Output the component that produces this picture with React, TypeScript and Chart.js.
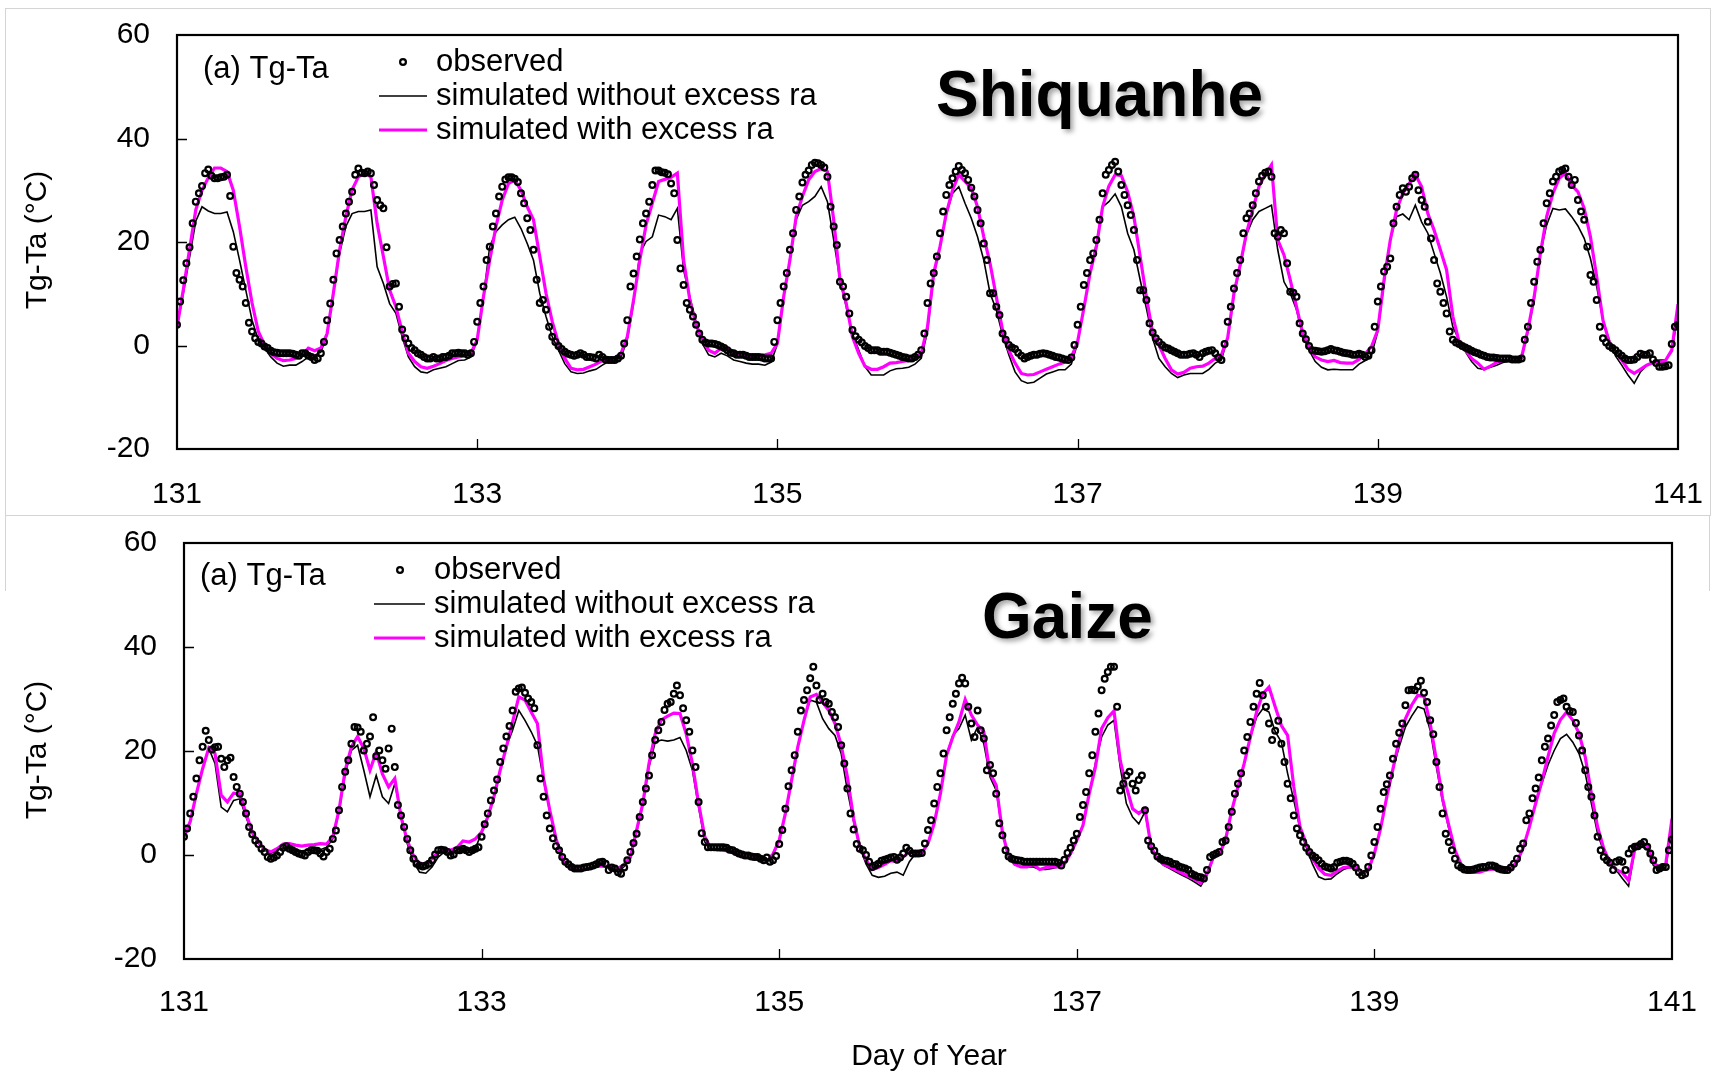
import React, { useEffect, useRef } from "react";
import { Chart, registerables } from "chart.js";

Chart.register(...registerables);

// ---------------- data ----------------
const FIRST_DAY = 131;
const LAST_DAY = 141;
const xTickValues = [131, 133, 135, 137, 139, 141];
const yTickValues = [-20, 0, 20, 40, 60];

const seriesLabels = ["observed", "simulated without excess ra", "simulated with excess ra"];
const panelLabel = "(a) Tg-Ta";
const yTitle = "Tg-Ta (\u00B0C)";
const xTitle = "Day of Year";

// Shiquanhe, observed (half-hourly, one row per day 131..140)
const shqObserved: number[][] = [
  [4.0, 8.5, 12.6, 15.9, 19, 23.6, 27.8, 29.4, 30.8, 33.3, 34, 32.8, 32.3, 32.3, 32.5, 32.6, 33, 28.9, 19.1, 14, 12.7, 11.4, 8.2, 4.4, 2.7, 1.4, 0.7, 0.4, -0.2, -0.5, -1, -1.3, -1.4, -1.5, -1.5, -1.5, -1.5, -1.6, -1.8, -2, -1.5, -1.5, -2, -2.2, -2.8, -2.5, -1.5, 0.7],
  [4.9, 8.1, 12.7, 17.8, 20.4, 23, 25.5, 27.8, 29.7, 33, 34.2, 33.4, 33.3, 33.6, 33.3, 31, 28.1, 27.1, 26.5, 19, 11.4, 11.9, 12, 7.5, 3.1, 1.4, 0.4, -0.5, -0.9, -1.5, -1.8, -2.2, -2.5, -2.5, -2.2, -2.5, -2.5, -2.2, -2.2, -2, -1.5, -1.5, -1.4, -1.5, -1.5, -1.8, -1.5, 0.7],
  [4.6, 8.2, 11.4, 16.5, 19.1, 23, 25.5, 28.8, 30.7, 32.1, 32.5, 32.5, 32.2, 31.6, 29.4, 27.5, 24.6, 22.3, 18.5, 12.7, 8.2, 8.8, 6.9, 3.6, 1.7, 0.7, -0.1, -0.7, -1.2, -1.6, -1.8, -2, -1.8, -1.5, -1.8, -2.2, -2.2, -2.3, -2.5, -1.8, -2.2, -2.7, -2.8, -2.8, -2.8, -2.5, -2, 0.4],
  [4.9, 11.4, 13.9, 17.2, 20.5, 23.6, 25.5, 27.8, 31, 33.8, 33.8, 33.5, 33.4, 33.1, 31.3, 29.4, 20.4, 14.9, 11.7, 8.2, 6.9, 5.6, 4, 2.3, 1.1, 0.6, 0.4, 0.4, 0.3, 0.1, -0.2, -0.5, -0.9, -1.4, -1.5, -1.8, -1.8, -1.8, -2, -2.2, -2.2, -2.2, -2.2, -2.3, -2.5, -2.5, -2.5, 0.7],
  [4.9, 8.2, 11.4, 14, 18.5, 21.7, 26.2, 28.8, 31.5, 33, 33.8, 34.9, 35.3, 35.2, 34.9, 34.4, 32.6, 26.8, 23, 19.4, 12.3, 11.4, 9.4, 6.2, 3, 1.8, 1.1, 0.6, -0.1, -0.5, -0.9, -0.9, -0.9, -1.2, -1.2, -1.2, -1.4, -1.6, -1.8, -2, -2.2, -2.3, -2.5, -2.5, -2.2, -1.8, -0.9, 2.3],
  [8.2, 12, 14, 17.2, 21.7, 25.9, 29.1, 31, 32.3, 33.6, 34.7, 33.9, 33.3, 32, 30.5, 28.8, 26.2, 23.6, 19.7, 16.5, 10.1, 10.1, 7.5, 5.9, 2.3, 1.1, 0.1, -0.4, -0.7, -1.4, -2, -2.5, -2.2, -2, -1.8, -1.8, -1.6, -1.5, -1.6, -1.8, -2, -2.2, -2.3, -2.5, -2.7, -2.8, -2.3, 0.1],
  [4, 7.5, 11.7, 14, 16.5, 17.8, 20.4, 24.3, 29.4, 33, 33.9, 34.9, 35.5, 33.6, 31, 29.1, 27.1, 25.2, 22.3, 16.5, 10.7, 10.7, 8.8, 4.3, 2.5, 1.4, 0.7, 0.1, -0.4, -0.6, -0.9, -1.2, -1.5, -1.8, -1.8, -1.8, -1.6, -1.5, -1.8, -2.2, -1.5, -1.2, -1, -0.9, -1.5, -2.3, -2.8, 0.3],
  [4.6, 7.5, 11, 14, 16.5, 21.7, 24.6, 25.5, 27.1, 29.4, 31.7, 32.8, 33.4, 33.6, 32.6, 21.7, 21, 22.3, 21.7, 15.9, 10.4, 10.2, 9.4, 4.3, 2.3, 1.2, -0.1, -0.9, -1, -1.1, -1.2, -1.1, -0.9, -0.7, -0.9, -1, -1.2, -1.4, -1.5, -1.6, -1.8, -1.8, -1.6, -1.8, -2.2, -2, -0.9, 3.6],
  [8.5, 11.4, 14.3, 15.2, 16.8, 23.6, 26.8, 29.1, 30.4, 29.7, 30.7, 32.3, 33, 30, 28.1, 26.8, 23.9, 20.7, 16.5, 12, 10.4, 8.2, 6.2, 2.7, 1.1, 0.6, 0.3, -0.1, -0.4, -0.7, -1, -1.3, -1.5, -1.8, -2, -2.2, -2.3, -2.3, -2.4, -2.5, -2.5, -2.5, -2.5, -2.7, -2.7, -2.7, -2.5, 1.1],
  [3.6, 8.2, 12.3, 16.2, 18.5, 23.6, 27.5, 29.4, 31.7, 32.6, 33.6, 33.9, 34.2, 32.6, 31, 32, 28.1, 25.9, 24.3, 19.1, 13.6, 12.3, 8.8, 3.6, 1.4, 0.6, -0.1, -0.5, -0.9, -1.5, -2, -2.5, -2.8, -2.8, -2.7, -2.2, -1.6, -1.8, -1.8, -1.5, -2.7, -3.4, -4.1, -4.1, -4, -3.8, 0.3, 3.6],
];
const shqObservedLast = 4;

// Shiquanhe, simulated without excess ra (hourly)
const shqNoExcess: number[][] = [
  [3.6, 10, 17, 24, 26.8, 26, 25.5, 25.5, 25.8, 22, 16.5, 10.7, 4.9, 1.1, -0.5, -2.2, -3.4, -4, -3.8, -3.8, -3.1, -2.2, -1.9, -1.3],
  [2, 10, 17.8, 23, 25.5, 25.9, 25.9, 26.2, 15.2, 12, 8.1, 6.2, 1.7, -2.2, -4.1, -5.1, -5.3, -4.7, -4.4, -4.1, -3.5, -2.9, -2.8, -2.2],
  [1.1, 9.4, 19.1, 22, 23.3, 24.3, 24.8, 22.6, 19.7, 16.5, 10.1, 5.6, 1.7, -0.9, -3.5, -5.1, -5.4, -5.3, -4.9, -4.6, -3.8, -3.1, -2.8, -2.2],
  [1.1, 8.2, 17.8, 20.1, 21, 25.2, 24.9, 24.3, 26.5, 14.6, 9.4, 4.3, 0.4, -1.8, -2.2, -1.5, -2, -2.8, -3.1, -3.4, -3.6, -3.6, -3.8, -3.2],
  [0.3, 9.4, 16.5, 24.3, 27.1, 27.8, 28.8, 30.7, 27.8, 20.4, 12.7, 7.5, 2.3, -0.9, -4.1, -5.7, -5.7, -5.7, -4.9, -4.5, -4.4, -4.2, -3.6, -2.5],
  [2.7, 13.5, 19.1, 25.2, 29.4, 30.7, 27.5, 24.6, 21, 16.5, 10.1, 6.9, 2, -1.8, -5.1, -6.8, -7.3, -7.1, -6.3, -5.5, -5.1, -4.7, -4.7, -3.6],
  [0.4, 7.2, 14, 19.7, 26.8, 27.8, 29.3, 26.8, 21.7, 18.5, 12.7, 7.2, 1.4, -2.5, -4.1, -5.4, -6.2, -5.7, -5.4, -5.4, -5.4, -4.6, -3.4, -2.8],
  [1.5, 9.8, 15.2, 21.4, 24.3, 25.9, 26.5, 27.1, 18.5, 12.3, 10.1, 6.9, 2, -0.9, -3.1, -4.2, -4.7, -4.6, -4.7, -4.7, -4.7, -3.6, -2.9, -1.8],
  [2.7, 12, 20.4, 24.9, 25.4, 24.3, 27.1, 23.9, 21.7, 17.8, 14, 9.4, 3.6, 1.1, -1.2, -3.1, -4.4, -4.6, -4.2, -3.8, -3.3, -3.1, -2.8, -2.5],
  [2.7, 8.8, 17.8, 23.3, 26.5, 26.2, 26.4, 24.9, 23.1, 20.7, 16.8, 11.4, 4.9, 1.1, -2, -3.8, -5.7, -7.3, -5.1, -3.8, -3.4, -2.8, -2.8, -1.2],
];
const shqNoExcessLast = 6;

// Shiquanhe, simulated with excess ra (hourly)
const shqExcess: number[][] = [
  [3.6, 10.7, 18.5, 26.2, 30, 32.4, 34.3, 34.3, 33.6, 30, 23, 15.2, 8.2, 2.7, 0.1, -1.5, -2.5, -2.9, -2.8, -2.5, -1.9, -0.5, -1, -0.5],
  [2.3, 10.1, 18.5, 24.9, 30.1, 32.6, 33.3, 32.6, 23.6, 17.2, 10.7, 7.5, 2.7, -1.5, -3.1, -4.1, -4.4, -4, -3.5, -2.9, -2.5, -2.2, -2, -1.5],
  [1.1, 9.4, 16.5, 23, 28.1, 31.3, 32, 30, 26.8, 24.3, 17.2, 10.1, 4.6, 0.4, -2.5, -4.4, -4.7, -4.6, -4.1, -3.6, -2.9, -2.8, -2.5, -1.5],
  [1.7, 8.8, 16.5, 23.3, 27.5, 31.7, 32.1, 32.5, 33.3, 16.5, 8.8, 4, 1.1, -0.9, -1.5, -0.5, -0.5, -1.2, -1.6, -2, -2.2, -2, -1.8, -1.5],
  [0.4, 9.4, 16.5, 24.9, 28.8, 32, 33.6, 34.2, 33.6, 24.3, 12.7, 8.2, 1.7, -1.5, -4, -4.6, -4.6, -4.1, -3.4, -3.3, -3.1, -2.9, -2.5, -1.5],
  [3.6, 14, 19.1, 25.5, 30, 33, 31.7, 30.4, 26.8, 21, 15.9, 9.4, 3, -0.9, -3.4, -5.4, -5.7, -5.6, -5.1, -4.6, -4.1, -3.6, -3.2, -2.3],
  [0.7, 7.2, 14, 19.1, 26.8, 30.8, 33, 32.8, 29.7, 24.9, 17.2, 9.4, 2.3, 0.1, -2.5, -4.7, -5.5, -5.2, -4.4, -4.1, -4, -3.4, -2.5, -1.8],
  [1.5, 10.1, 15.6, 21.7, 26.2, 30.7, 33, 34.9, 20.4, 17.5, 12.7, 7.5, 2.3, -0.2, -2.2, -2.8, -3.1, -2.9, -3.3, -3.4, -3.4, -2.7, -1.6, -0.2],
  [3, 12.7, 20.4, 26.2, 29.4, 31.3, 33, 30.7, 25.5, 22.3, 18.5, 14.6, 5.6, 0.7, -0.9, -2.5, -3.4, -4.6, -4, -3.3, -2.9, -2.8, -2.7, -2.2],
  [3, 9.4, 17.8, 24.9, 29.4, 32.3, 33.3, 31, 29.7, 26.5, 21, 13.3, 4.9, 0.7, -1.2, -2.8, -4.6, -5.4, -4.6, -3.8, -3.3, -3.4, -2.9, -0.9],
];
const shqExcessLast = 8;

// Gaize, observed (half-hourly)
const gzObserved: number[][] = [
  [3.5, 5.1, 8, 11.2, 14.7, 18.2, 20.8, 23.9, 22.1, 20.3, 20.7, 20.8, 18.5, 16.9, 18.2, 18.7, 15, 13.1, 11.8, 10.2, 8, 5.4, 4, 2.8, 2.1, 1.2, 0.6, -0.4, -0.7, -0.5, -0.1, 0.6, 1.4, 1.7, 1.2, 0.9, 0.6, 0.3, 0.1, -0.1, 0.6, 0.9, 0.9, 0.8, 0.3, -0.3, 0.6, 1.2],
  [3.1, 4.7, 8.6, 13.1, 16, 18.2, 21.4, 24.6, 24.5, 23.7, 20.1, 21.4, 22.8, 26.5, 19, 20.1, 18.2, 16.6, 20.5, 24.3, 16.9, 9.6, 7.6, 5.4, 3.1, 0.9, -0.7, -1.7, -2, -2.2, -2, -1.7, -1, 0.1, 0.9, 1, 0.9, 0.6, -0.1, 0.1, 0.9, 0.9, 1.2, 0.9, 0.6, 0.9, 1.2, 1.5],
  [3.5, 5.9, 8, 10.5, 12.4, 14.5, 17.9, 20.5, 22.8, 24.8, 27.8, 31.4, 32, 32.2, 31.2, 30.1, 29.4, 28.2, 21.1, 14.7, 11.2, 7.6, 5.1, 3.2, 1.7, 0.9, -0.4, -1.3, -1.8, -2.3, -2.6, -2.6, -2.6, -2.4, -2.3, -2.2, -2, -1.8, -1.4, -1.3, -1.7, -2.9, -2.4, -2.6, -3.3, -3.6, -2.4, -1],
  [0.6, 2.3, 4.1, 7.3, 10.2, 12.8, 15.3, 19.2, 22.1, 24, 25.6, 27.9, 29.1, 29.4, 31, 32.6, 30.7, 28.2, 25.9, 23.7, 20.1, 16.9, 10.2, 4.2, 2.5, 1.5, 1.5, 1.5, 1.5, 1.5, 1.5, 1.4, 1, 0.9, 0.6, 0.3, 0.1, -0.1, -0.1, -0.3, -0.4, -0.4, -0.7, -1, -0.5, -1.3, -1, -0.2],
  [2.1, 4.8, 8.9, 13.2, 16.3, 19.2, 23.7, 27.8, 29.8, 31.7, 34, 36.2, 32.6, 29.8, 31, 29.4, 29.1, 27.5, 26.5, 24.6, 21.1, 17.6, 12.8, 8, 4.9, 2.1, 1.2, 0.9, 0, -1.3, -2.3, -2, -1.7, -1.1, -0.9, -0.7, -0.5, -0.4, -0.9, -0.5, 0.3, 1.4, 0.8, 0.3, 0.3, 0.3, 0.4, 2.2],
  [4.8, 6.7, 9.9, 13.1, 15.7, 19.5, 24, 26.5, 29.1, 31, 33, 34.1, 33, 28.5, 25.3, 22.7, 27.8, 24, 22.4, 16.3, 17.3, 15.7, 11.8, 6.1, 3.8, 0.9, -0.3, -0.7, -0.9, -1, -1.1, -1.3, -1.3, -1.3, -1.3, -1.3, -1.3, -1.3, -1.3, -1.3, -1.3, -1.3, -1.5, -2, -0.9, 0.4, 1.4, 2.8],
  [4.1, 7.3, 9.6, 12.1, 15.7, 19.2, 23.7, 27.2, 31.7, 33.9, 35.2, 36.2, 36.2, 28.5, 12.4, 13.7, 15.3, 16, 13.7, 12.4, 14.4, 15.3, 8.6, 2.8, 1.7, 0.8, -0.3, -0.7, -1, -1.1, -1.3, -1.7, -1.8, -2.2, -2.4, -2.6, -2.9, -3.6, -3.9, -4.2, -4.3, -4.5, -2.9, -0.4, 0, 0.3, 0.6, 2.5],
  [2.8, 5.4, 8.3, 11.8, 13.7, 15.7, 20.1, 22.7, 25.6, 28.5, 31, 33.1, 30.7, 28.5, 25.3, 22.1, 23.9, 25.8, 21.4, 17.9, 13.7, 10.9, 7.6, 5.1, 3.8, 2.5, 1.4, 0.6, -0.1, -0.5, -1, -1.7, -2.2, -2.4, -2.6, -2.3, -1.5, -1.3, -1.1, -1.1, -1.3, -1.7, -2.4, -3.3, -3.9, -3.6, -2.3, -0.1],
  [2.5, 5.4, 8.9, 12.1, 13.6, 15.3, 18.5, 21.4, 23.5, 25.3, 28.8, 31.7, 31.8, 31.7, 32.4, 33.5, 31.2, 29.4, 25.9, 23.2, 17.9, 13.1, 8, 4.1, 2.5, 0.9, -0.7, -2, -2.4, -2.8, -2.9, -2.9, -2.8, -2.6, -2.4, -2.3, -2.3, -2, -2, -2.2, -2.6, -2.8, -2.9, -2.9, -2.4, -1.7, -0.7, 1.2],
  [2.2, 6.7, 8, 10.9, 12.8, 14.9, 18.2, 20.8, 22.4, 24.9, 26.9, 29.4, 29.8, 30.1, 28.5, 27.7, 27.5, 25.4, 23, 20.1, 16.3, 13.1, 11.2, 7.6, 3.5, 0.9, -0.4, -1, -1.5, -2.9, -1.3, -1, -1.3, -2.9, 0.3, 1.2, 1.6, 1.7, 2.1, 2.5, 1.6, 0.3, -1, -2.9, -2.6, -2.3, -2.3, 0.9],
];
const gzObservedLast = 3;

// Gaize, simulated without excess ra (hourly)
const gzNoExcess: number[][] = [
  [3.5, 6.4, 11.8, 16.6, 20.5, 17.6, 9.2, 8.3, 10.5, 10.8, 7.3, 4.1, 2.3, 0.9, 0.3, 0.9, 1.4, 1.2, 0.9, 0.8, 0.9, 0.9, 1, 1.5],
  [3.1, 8.3, 15.6, 20.1, 21.1, 16.3, 11.2, 15.3, 11.2, 9.9, 13.7, 8, 2.2, -1.3, -3.3, -3.5, -2.3, -0.4, 0.6, 0.9, 0.9, 1.2, 0.9, 1.2],
  [4.4, 7.3, 11.2, 16.3, 20.8, 24, 27.8, 25.9, 23.7, 21.1, 14.4, 8.3, 2.8, -0.9, -2.4, -2.9, -3.1, -2.7, -2.3, -2, -2, -2.6, -3.3, -2.2],
  [-0.7, 4.4, 9.6, 16.9, 21.7, 22.1, 21.9, 22.1, 22.6, 20.1, 16.3, 9.2, 2.5, 1, 0.9, 0.9, 0.7, 0.4, 0.1, -0.1, -0.3, -0.5, -1.5, 0],
  [2.8, 8, 14.4, 20.8, 25.9, 29.8, 29.4, 26.2, 24.3, 23, 19.5, 12.4, 6.4, 1.5, -1.7, -3.9, -4.3, -4.1, -3.5, -3.3, -3.9, -1.3, 0.3, 0.4],
  [2.2, 6.1, 11.8, 19.2, 23, 24.3, 26.9, 22.1, 24.6, 21.4, 15, 12.4, 4.4, -0.4, -1.8, -2.3, -2.3, -2.3, -2.8, -2.8, -2.6, -2.3, -1.8, 0.3],
  [2.8, 5.7, 11.8, 17.6, 22.7, 25, 25.9, 16.9, 9.9, 7.3, 6, 8.3, 1.5, -0.9, -2, -2.6, -3.3, -3.9, -4.5, -5.2, -6, -3.9, -0.7, 0.1],
  [3, 8.6, 13.1, 17.6, 22.7, 26.5, 28.1, 27.5, 23.7, 21.7, 15.7, 10.5, 5.1, 1.5, -1.7, -4.2, -4.7, -4.6, -3.6, -2.8, -2.4, -2.7, -3.6, -3.3],
  [0.3, 5.1, 11.2, 16.6, 20.8, 24.6, 26.7, 28.5, 28.1, 24, 16.9, 10.2, 5.1, 0.6, -2, -3.1, -3.4, -3.3, -2.9, -2.8, -2.8, -3.1, -2.8, -1.5],
  [1.4, 5.4, 9.9, 13.7, 17.3, 20.1, 22.4, 23.2, 21.7, 19.5, 15.7, 9.9, 4.1, 0.6, -1.8, -2.9, -4.5, -6, 0.9, 1.6, 1.2, -2, -2.9, -2.3],
];
const gzNoExcessLast = 5;

// Gaize, simulated with excess ra (hourly)
const gzExcess: number[][] = [
  [3.5, 6.4, 11.8, 16.6, 20.6, 19.5, 11.5, 10.2, 11.9, 11.8, 8, 4.4, 2.5, 1, 0.6, 1.2, 2.1, 2.2, 1.9, 1.7, 1.9, 2, 2.2, 2.1],
  [3.5, 8.6, 16.3, 20.8, 22.8, 20.5, 16.3, 19.8, 15.6, 13.1, 14.7, 7.3, 2.8, -0.1, -1.7, -1.7, -0.7, 0.6, 1.2, 0.9, 1.4, 2.7, 2.5, 3.1],
  [4.4, 7.3, 11.2, 16.3, 20.8, 25.6, 30.4, 29.8, 27.5, 25.3, 14.7, 8.6, 3.2, -0.7, -2.3, -2.8, -2.9, -2.7, -2.3, -2.1, -2.2, -2.3, -2.6, -1.8],
  [-0.4, 4.8, 9.9, 17.6, 23.3, 26, 26.7, 27.3, 27.2, 23.3, 17.6, 9.9, 3.5, 1.2, 1, 0.9, 0.8, 0.5, 0.3, 0.1, -0.1, -0.4, -1.2, 0.2],
  [2.8, 8, 14.4, 20.8, 25.9, 30.4, 30.9, 29.4, 27.8, 25.3, 21.1, 15, 7, 1.5, -0.9, -2.8, -2.4, -1.8, -1.1, -1.3, -0.4, 0.6, 0.3, 0.4],
  [2.2, 6.1, 11.8, 19.2, 22.7, 25.6, 29.9, 26.9, 25, 23.7, 15.7, 13.4, 4.4, -0.4, -1.8, -2.3, -2.3, -1.8, -2.8, -2.4, -2.3, -2.3, -1.7, 0.3],
  [2.8, 5.7, 11.8, 16.9, 24.3, 26.4, 27.7, 18.2, 13.1, 8.9, 8, 8.9, 1.5, -0.7, -1.8, -2.3, -2.9, -3.5, -4.1, -4.7, -5.4, -3.6, -0.5, 0.1],
  [3, 8.6, 13.1, 17.6, 22.7, 27.5, 31, 32.3, 28.5, 24.9, 23, 13.1, 5.4, 2.2, -0.7, -2.6, -3.7, -3.9, -3.1, -2.4, -2.3, -2.4, -3.3, -2.9],
  [0.3, 5.1, 11.2, 16.6, 22.1, 26.2, 28.8, 30.7, 30.5, 25.3, 18.2, 10.8, 5.7, 0.9, -1.8, -2.9, -3.3, -3.3, -2.9, -2.7, -2.6, -2.9, -2.6, -1.3],
  [1.4, 5.4, 9.9, 14.1, 18.9, 23.4, 26, 27.5, 25.9, 23.4, 18.9, 11.8, 5.4, 1.2, -1.5, -2.8, -3.4, -4.9, 1.2, 2.2, 1.9, -1.5, -2.3, -1.7],
];
const gzExcessLast = 7;

// ---------------- helpers ----------------
type Pt = { x: number; y: number };
function toPoints(days: number[][], last: number): Pt[] {
  const pts: Pt[] = [];
  days.forEach((row, d) => {
    row.forEach((v, i) => pts.push({ x: FIRST_DAY + d + i / row.length, y: v }));
  });
  pts.push({ x: FIRST_DAY + days.length, y: last });
  return pts;
}

const FONT = "'Liberation Sans', Arial, Helvetica, sans-serif";

type PanelCfg = {
  top: number;
  height: number;
  area: { left: number; right: number; top: number; bottom: number };
  xPad: number;
  station: string;
  stationX: number;
  stationBase: number;
  labelX: number;
  labelY: number;
  markerX: number;
  obsY: number;
  lineX1: number;
  lineX2: number;
  textX: number;
  blackY: number;
  magY: number;
  yTitleX: number;
  yTitleY: number;
  showXTitle: boolean;
  xTitleX: number;
  xTitleY: number;
  observed: Pt[];
  noExcess: Pt[];
  excess: Pt[];
};

function makeDecor(cfg: PanelCfg) {
  return {
    id: "decor" + cfg.station,
    afterDraw(chart: any) {
      const ctx: CanvasRenderingContext2D = chart.ctx;
      const { left, right, top, bottom } = chart.chartArea;
      const xs = chart.scales.x;
      const ys = chart.scales.y;
      ctx.save();
      // inner tick marks
      ctx.strokeStyle = "#000";
      ctx.lineWidth = 1.3;
      ctx.beginPath();
      xTickValues.forEach((v) => {
        if (v === FIRST_DAY || v === LAST_DAY) return;
        const px = Math.round(xs.getPixelForValue(v)) + 0.5;
        ctx.moveTo(px, bottom);
        ctx.lineTo(px, bottom - 10);
      });
      yTickValues.forEach((v) => {
        if (v === yTickValues[0] || v === yTickValues[yTickValues.length - 1]) return;
        const py = Math.round(ys.getPixelForValue(v)) + 0.5;
        ctx.moveTo(left, py);
        ctx.lineTo(left + 10, py);
      });
      ctx.stroke();
      // frame
      ctx.lineWidth = 2.2;
      ctx.strokeRect(left, top, right - left, bottom - top);

      // texts
      ctx.fillStyle = "#000";
      ctx.textBaseline = "middle";
      ctx.textAlign = "left";
      ctx.font = `31px ${FONT}`;
      ctx.fillText(panelLabel, cfg.labelX, cfg.labelY);
      ctx.fillText(seriesLabels[0], cfg.textX, cfg.obsY);
      ctx.fillText(seriesLabels[1], cfg.textX, cfg.blackY);
      ctx.fillText(seriesLabels[2], cfg.textX, cfg.magY);
      // legend samples
      ctx.beginPath();
      ctx.lineWidth = 2.2;
      ctx.strokeStyle = "#000";
      ctx.arc(cfg.markerX, cfg.obsY, 2.9, 0, Math.PI * 2);
      ctx.stroke();
      ctx.beginPath();
      ctx.lineWidth = 1.6;
      ctx.moveTo(cfg.lineX1, cfg.blackY);
      ctx.lineTo(cfg.lineX2, cfg.blackY);
      ctx.stroke();
      ctx.beginPath();
      ctx.strokeStyle = "#FF00FF";
      ctx.lineWidth = 3.2;
      ctx.moveTo(cfg.lineX1, cfg.magY);
      ctx.lineTo(cfg.lineX2, cfg.magY);
      ctx.stroke();

      // y title
      ctx.save();
      ctx.translate(cfg.yTitleX, cfg.yTitleY);
      ctx.rotate(-Math.PI / 2);
      ctx.textAlign = "center";
      ctx.font = `30px ${FONT}`;
      ctx.fillText(yTitle, 0, 0);
      ctx.restore();

      if (cfg.showXTitle) {
        ctx.textAlign = "center";
        ctx.font = `30px ${FONT}`;
        ctx.fillText(xTitle, cfg.xTitleX, cfg.xTitleY);
      }

      // station name with soft shadow
      ctx.save();
      ctx.textAlign = "left";
      ctx.textBaseline = "alphabetic";
      ctx.font = `bold 64px ${FONT}`;
      ctx.shadowColor = "rgba(0,0,0,0.35)";
      ctx.shadowBlur = 5;
      ctx.shadowOffsetX = 3;
      ctx.shadowOffsetY = 3;
      ctx.fillText(cfg.station, cfg.stationX, cfg.stationBase);
      ctx.restore();

      ctx.restore();
    },
  };
}

function Panel({ cfg }: { cfg: PanelCfg }) {
  const ref = useRef<HTMLCanvasElement>(null);
  useEffect(() => {
    const canvas = ref.current!;
    const W = 1717;
    const chart = new Chart(canvas, {
      type: "line",
      data: {
        datasets: [
          {
            label: seriesLabels[0],
            data: cfg.observed,
            showLine: false,
            pointStyle: "circle",
            pointRadius: 2.9,
            pointBorderWidth: 2.2,
            pointBorderColor: "#000",
            pointBackgroundColor: "rgba(255,255,255,0)",
            borderColor: "#000",
          },
          {
            label: seriesLabels[2],
            data: cfg.excess,
            borderColor: "#FF00FF",
            borderWidth: 3.2,
            pointRadius: 0,
            tension: 0,
            fill: false,
          },
          {
            label: seriesLabels[1],
            data: cfg.noExcess,
            borderColor: "#000",
            borderWidth: 1.6,
            pointRadius: 0,
            tension: 0,
            fill: false,
          },
        ],
      } as any,
      options: {
        responsive: false,
        animation: false,
        devicePixelRatio: 1,
        events: [],
        layout: {
          padding: {
            left: 0,
            top: cfg.area.top,
            right: W - cfg.area.right,
            bottom: 0,
          },
        },
        plugins: {
          legend: { display: false },
          tooltip: { enabled: false },
          title: { display: false },
        },
        scales: {
          x: {
            type: "linear",
            min: FIRST_DAY,
            max: LAST_DAY,
            afterFit: (s: any) => {
              s.height = cfg.height - cfg.area.bottom;
              s.paddingLeft = 0;
              s.paddingRight = 0;
              s.paddingTop = 0;
              s.paddingBottom = 0;
            },
            afterBuildTicks: (s: any) => {
              s.ticks = xTickValues.map((v) => ({ value: v }));
            },
            grid: { display: false, drawTicks: false },
            border: { display: false },
            ticks: {
              padding: cfg.xPad,
              color: "#000",
              font: { family: FONT, size: 30 },
              maxRotation: 0,
              autoSkip: false,
              callback: (v: any) => String(v),
            },
          },
          y: {
            type: "linear",
            min: yTickValues[0],
            max: yTickValues[yTickValues.length - 1],
            afterFit: (s: any) => {
              s.width = cfg.area.left;
              s.paddingLeft = 0;
              s.paddingRight = 0;
              s.paddingTop = 0;
              s.paddingBottom = 0;
            },
            afterBuildTicks: (s: any) => {
              s.ticks = yTickValues.map((v) => ({ value: v }));
            },
            grid: { display: false, drawTicks: false },
            border: { display: false },
            ticks: {
              padding: 27,
              color: "#000",
              font: { family: FONT, size: 30 },
              callback: (v: any) => String(v),
            },
          },
        },
      } as any,
      plugins: [makeDecor(cfg)],
    });
    return () => chart.destroy();
  }, [cfg]);
  return (
    <canvas
      ref={ref}
      width={1717}
      height={cfg.height}
      style={{ position: "absolute", left: 0, top: cfg.top, width: 1717, height: cfg.height }}
    />
  );
}

const topCfg: PanelCfg = {
  top: 0,
  height: 520,
  area: { left: 177, right: 1678, top: 35, bottom: 449 },
  xPad: 28,
  station: "Shiquanhe",
  stationX: 936,
  stationBase: 116,
  labelX: 203,
  labelY: 69,
  markerX: 403,
  obsY: 62,
  lineX1: 379,
  lineX2: 427,
  textX: 436,
  blackY: 96,
  magY: 130,
  yTitleX: 38,
  yTitleY: 240,
  showXTitle: false,
  xTitleX: 0,
  xTitleY: 0,
  observed: toPoints(shqObserved, shqObservedLast),
  noExcess: toPoints(shqNoExcess, shqNoExcessLast),
  excess: toPoints(shqExcess, shqExcessLast),
};

const bottomCfg: PanelCfg = {
  top: 520,
  height: 572,
  area: { left: 184, right: 1672, top: 23, bottom: 439 },
  xPad: 26,
  station: "Gaize",
  stationX: 982,
  stationBase: 118,
  labelX: 200,
  labelY: 56,
  markerX: 400,
  obsY: 50,
  lineX1: 374,
  lineX2: 425,
  textX: 434,
  blackY: 84,
  magY: 118,
  yTitleX: 38,
  yTitleY: 230,
  showXTitle: true,
  xTitleX: 929,
  xTitleY: 537,
  observed: toPoints(gzObserved, gzObservedLast),
  noExcess: toPoints(gzNoExcess, gzNoExcessLast),
  excess: toPoints(gzExcess, gzExcessLast),
};

export default function App() {
  const frame = "1.5px solid #d4d4d4";
  return (
    <div
      style={{
        position: "fixed",
        left: 0,
        top: 0,
        width: 1717,
        height: 1092,
        background: "#fff",
        overflow: "hidden",
      }}
    >
      <div style={{ position: "absolute", left: 5, top: 8, width: 1704, height: 506, border: frame }} />
      <div style={{ position: "absolute", left: 5, top: 516, width: 0, height: 75, borderLeft: frame }} />
      <div style={{ position: "absolute", left: 1709, top: 516, width: 0, height: 75, borderLeft: frame }} />
      <Panel cfg={topCfg} />
      <Panel cfg={bottomCfg} />
    </div>
  );
}
